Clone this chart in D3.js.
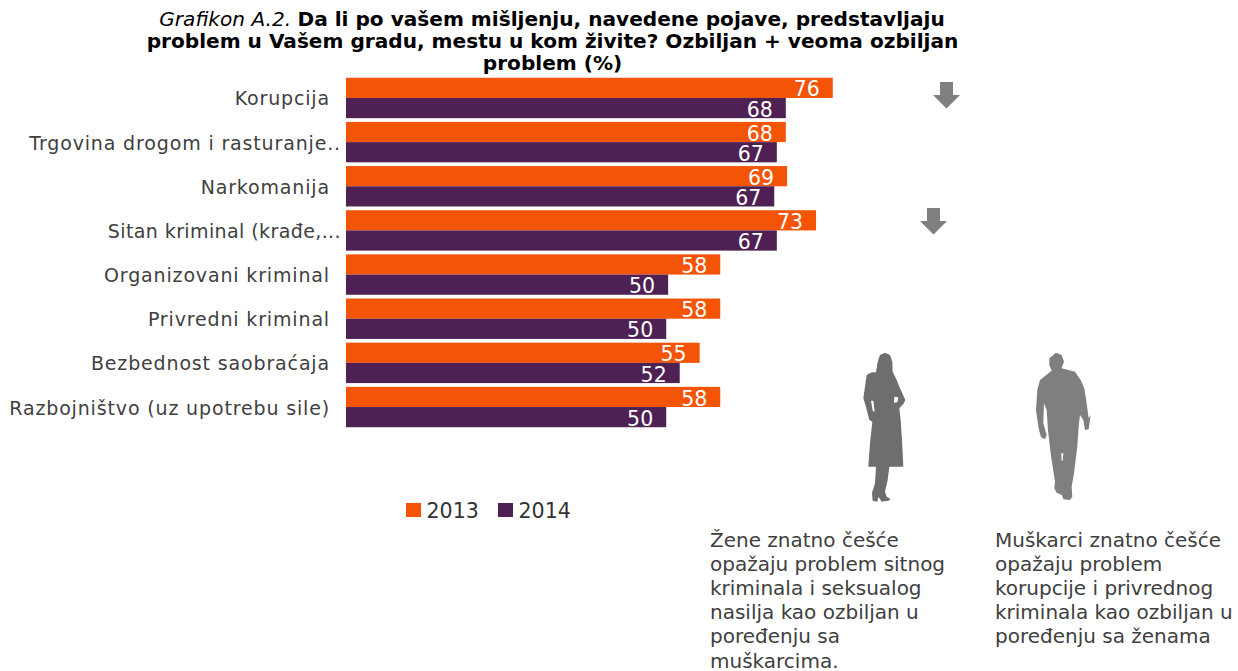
<!DOCTYPE html>
<html lang="en">

<head>
    <meta charset="UTF-8">
    <title>Grafikon A.2</title>
    <script src="https://d3js.org/d3.v7.min.js"></script>
</head>
<style>
body {
    margin: 0;
    background: #fff;
}

svg {
    display: block;
    font-family: "DejaVu Sans", sans-serif;
}
</style>

<body>
    <svg width="1238" height="671"></svg>
</body>
<script>
var categories = ['Korupcija', 'Trgovina drogom i rasturanje..', 'Narkomanija', 'Sitan kriminal (krađe,...', 'Organizovani kriminal', 'Privredni kriminal', 'Bezbednost saobraćaja', 'Razbojništvo (uz upotrebu sile)'];
var values2013 = [75.7, 68.4, 68.6, 73.1, 58.2, 58.2, 55, 58.2];
var values2014 = [68.4, 67, 66.6, 67, 50.1, 49.8, 51.9, 49.8];
var years = ['2013', '2014'];
var colors = ['#f35406', '#4e2053'];
var arrowRows = ['Korupcija', 'Sitan kriminal (krađe,...'];
var titleItalic = 'Grafikon A.2.';
var titleLines = ['Da li po vašem mišljenju, navedene pojave, predstavljaju', 'problem u Vašem gradu, mestu u kom živite? Ozbiljan + veoma ozbiljan', 'problem (%)'];
var womenNote = ['Žene znatno češće', 'opažaju problem sitnog', 'kriminala i seksualog', 'nasilja kao ozbiljan u', 'poređenju sa', 'muškarcima.'];
var menNote = ['Muškarci znatno češće', 'opažaju problem', 'korupcije i privrednog', 'kriminala kao ozbiljan u', 'poređenju sa ženama'];

var svg = d3.select('svg');

var x = d3.scaleLinear().domain([0, 100]).range([346, 989]);
var y = d3.scaleBand().domain(categories).range([76, 429]).paddingInner(0.085).paddingOuter(0.04);
var inner = d3.scaleBand().domain(years).range([0, y.bandwidth()]);

// title
var title = svg.append('g').attr('text-anchor', 'middle').attr('fill', '#000');
var first = title.append('text').attr('x', 552).attr('y', 26).attr('font-size', 20.1);
first.append('tspan').attr('font-style', 'italic').text(titleItalic + ' ');
first.append('tspan').attr('font-weight', 'bold').text(titleLines[0]);
title.selectAll('text.line')
    .data(titleLines.slice(1))
    .enter()
    .append('text')
    .attr('class', 'line')
    .attr('x', 552.5)
    .attr('y', function(d, i) {
        return 48 + i * 22;
    })
    .attr('font-size', 20.1)
    .attr('font-weight', 'bold')
    .text(function(d) {
        return d;
    });

// category labels
svg.append('g')
    .selectAll('text')
    .data(categories)
    .enter()
    .append('text')
    .attr('x', function(d) {
        return d.slice(-2) == '..' ? 341 : 330;
    })
    .attr('y', function(d) {
        return y(d) + y.bandwidth() / 2 + 7.5;
    })
    .attr('text-anchor', 'end')
    .attr('font-size', 19)
    .attr('letter-spacing', function(d) {
        return d.slice(-3) == '...' ? 0.4 : 0.85;
    })
    .attr('fill', '#404040')
    .text(function(d) {
        return d;
    });

// bars
var series = [values2013, values2014];
var groups = svg.append('g')
    .selectAll('g')
    .data(years)
    .enter()
    .append('g')
    .attr('fill', function(d, i) {
        return colors[i];
    });

groups.selectAll('rect')
    .data(function(d, i) {
        return series[i].map(function(v, j) {
            return { year: d, cat: categories[j], value: v };
        });
    })
    .enter()
    .append('rect')
    .attr('x', x(0))
    .attr('y', function(d) {
        return y(d.cat) + inner(d.year);
    })
    .attr('width', function(d) {
        return x(d.value) - x(0);
    })
    .attr('height', inner.bandwidth());

groups.selectAll('text')
    .data(function(d, i) {
        return series[i].map(function(v, j) {
            return { year: d, cat: categories[j], value: v };
        });
    })
    .enter()
    .append('text')
    .attr('x', function(d) {
        return x(d.value) - 13;
    })
    .attr('y', function(d) {
        return y(d.cat) + inner(d.year) + inner.bandwidth() - 1.5;
    })
    .attr('text-anchor', 'end')
    .attr('font-size', 20.5)
    .attr('fill', '#fff')
    .text(function(d) {
        return d3.format('.0f')(d.value);
    });

// arrows
var arrowX = d3.scaleOrdinal().domain(arrowRows).range([946.5, 933.5]);
var arrowY = d3.scaleOrdinal().domain(arrowRows).range([82, 208]);
svg.append('g')
    .selectAll('path')
    .data(arrowRows)
    .enter()
    .append('path')
    .attr('transform', function(d) {
        return 'translate(' + arrowX(d) + ',' + arrowY(d) + ')';
    })
    .attr('d', 'M-6.5,0H6.5V13H13.5L0,26.5L-13.5,13H-6.5Z')
    .attr('fill', '#7f7f7f');

// legend
var legend = svg.append('g')
    .selectAll('g')
    .data(years)
    .enter()
    .append('g')
    .attr('transform', function(d, i) {
        return 'translate(' + (406 + i * 92) + ',503)';
    });

legend.append('rect')
    .attr('width', 15)
    .attr('height', 14)
    .attr('fill', function(d, i) {
        return colors[i];
    });

legend.append('text')
    .attr('x', 20.5)
    .attr('y', 15)
    .attr('font-size', 20.6)
    .attr('fill', '#333')
    .text(function(d) {
        return d;
    });

// silhouettes, outlines traced in 3x units
var woman = 'M135,38L150,45L157,65L158,95L170,120L178,140L185,155L196,180L190,192L178,205L182,240L186,300L190,380L148,380L143,420L135,455L140,470L152,478L145,482L125,485L115,470L112,485L98,482L96,458L105,430L108,380L85,380L90,310L97,245L88,240L78,200L70,175L75,140L80,105L95,97L108,97L113,65L120,45Z' +
    'M163,170L175,172L172,187L162,188Z M93,182L100,182L104,215L98,212Z';
var man = 'M648,38L665,45L672,65L665,85L705,95L722,120L733,145L740,190L746,235L752,225L746,268L735,270L730,240L720,225L716,260L712,320L702,400L695,440L697,470L690,480L670,478L666,465L650,458L643,445L645,425L632,340L624,270L620,210L612,190L610,250L620,285L615,298L603,292L596,265L588,210L592,150L600,120L635,92L628,75L628,55Z' +
    'M664,340L670,340L668,362L665,362Z';

svg.append('g')
    .attr('transform', 'translate(840,340) scale(0.3333)')
    .selectAll('path')
    .data([[woman, '#6e6e6e'], [man, '#7f7f7f']])
    .enter()
    .append('path')
    .attr('d', function(d) {
        return d[0];
    })
    .attr('fill', function(d) {
        return d[1];
    })
    .attr('fill-rule', 'evenodd');

// notes under silhouettes
function note(lines, left) {
    svg.append('g')
        .selectAll('text')
        .data(lines)
        .enter()
        .append('text')
        .attr('x', left)
        .attr('y', function(d, i) {
            return 546.5 + i * 24.2;
        })
        .attr('font-size', 20)
        .attr('fill', '#404040')
        .text(function(d) {
            return d;
        });
}
note(womenNote, 710);
note(menNote, 995);
</script>

</html>
